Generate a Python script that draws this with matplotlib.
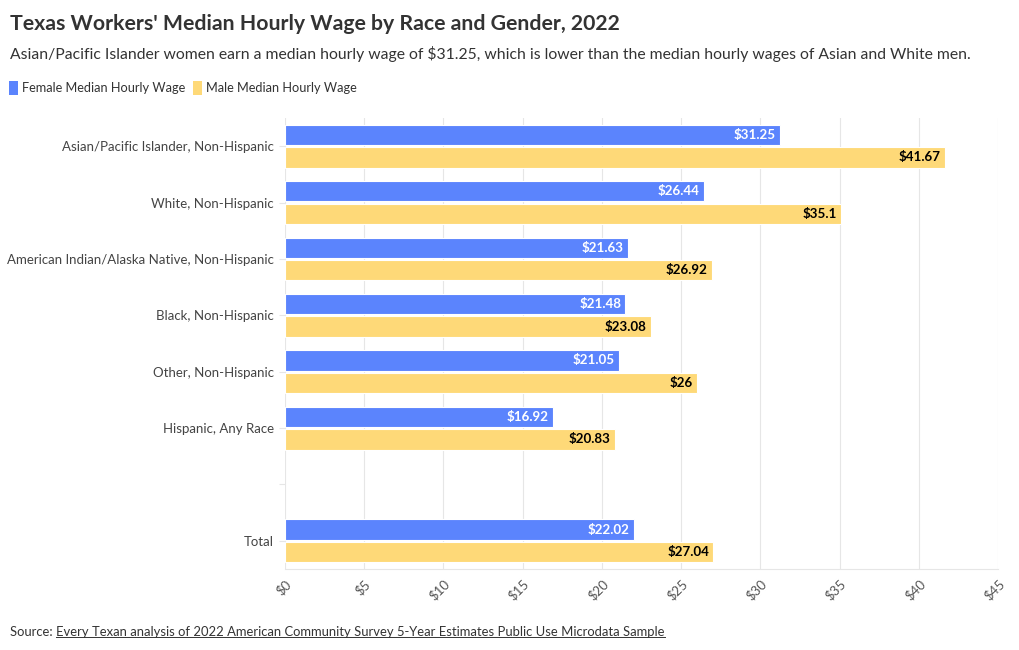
import matplotlib
matplotlib.use("Agg")
import matplotlib.pyplot as plt
from matplotlib.patches import Patch
import numpy as np

categories = [
    "Asian/Pacific Islander, Non-Hispanic",
    "White, Non-Hispanic",
    "American Indian/Alaska Native, Non-Hispanic",
    "Black, Non-Hispanic",
    "Other, Non-Hispanic",
    "Hispanic, Any Race",
    "",
    "Total",
]
female = [31.25, 26.44, 21.63, 21.48, 21.05, 16.92, None, 22.02]
male = [41.67, 35.1, 26.92, 23.08, 26, 20.83, None, 27.04]
female_labels = ["$31.25", "$26.44", "$21.63", "$21.48", "$21.05", "$16.92", None, "$22.02"]
male_labels = ["$41.67", "$35.1", "$26.92", "$23.08", "$26", "$20.83", None, "$27.04"]
xticks = [0, 5, 10, 15, 20, 25, 30, 35, 40, 45]
xtick_labels = ["$0", "$5", "$10", "$15", "$20", "$25", "$30", "$35", "$40", "$45"]
series_names = ["Female Median Hourly Wage", "Male Median Hourly Wage"]

title = "Texas Workers' Median Hourly Wage by Race and Gender, 2022"
subtitle = ("Asian/Pacific Islander women earn a median hourly wage of \\$31.25, which is lower "
            "than the median hourly wages of Asian and White men.")
source_prefix = "Source: "
source_link = "Every Texan analysis of 2022 American Community Survey 5-Year Estimates Public Use Microdata Sample"

BLUE = "#5B84FD"
YELLOW = "#FED978"
TXT = "#333333"
GRID = "#E6E6E6"
FONT = ["Lato", "DejaVu Sans"]

plt.rcParams["font.family"] = FONT

fig = plt.figure(figsize=(10.2, 6.5), dpi=100)
ax = fig.add_axes([0.2794, 0.1246, 0.699, 0.6938])

y = np.arange(len(categories))
h = 0.36
off = 0.2
for i, (f, m) in enumerate(zip(female, male)):
    if f is None:
        continue
    ax.barh(y[i] - off, f, height=h, color=BLUE, edgecolor="white", linewidth=0.8, zorder=3)
    ax.barh(y[i] + off, m, height=h, color=YELLOW, edgecolor="white", linewidth=0.8, zorder=3)
    ax.annotate(female_labels[i].replace("$", r"\$"), (f, y[i] - off), xytext=(-3, 0),
                textcoords="offset points", ha="right", va="center",
                fontsize=9.6, fontweight="bold", color="white", zorder=4)
    ax.annotate(male_labels[i].replace("$", r"\$"), (m, y[i] + off), xytext=(-3, 0),
                textcoords="offset points", ha="right", va="center",
                fontsize=9.6, fontweight="bold", color="black", zorder=4)

ax.set_xlim(0, 45)
ax.set_ylim(len(categories) - 0.5, -0.5)
ax.set_xticks(xticks)
ax.set_xticklabels([t.replace("$", r"\$") for t in xtick_labels], rotation=45,
                   ha="right", rotation_mode="anchor", fontsize=9.5, color="#555555")
ax.set_yticks(y)
ax.set_yticklabels(categories, fontsize=9.5, color="#444444")
ax.tick_params(axis="x", length=0, pad=6)
ax.tick_params(axis="y", length=4, color=GRID, pad=4)
ax.grid(axis="x", color=GRID, linewidth=0.8, zorder=0)
for s in ["top", "right", "left"]:
    ax.spines[s].set_visible(False)
ax.spines["bottom"].set_color(GRID)
ax.spines["bottom"].set_linewidth(0.8)

fig.text(10 / 1020, 1 - 24 / 650, title, fontsize=15.3, fontweight="bold", color=TXT,
         ha="left", va="center")
fig.text(10 / 1020, 1 - 54 / 650, subtitle, fontsize=11.3, color=TXT, ha="left", va="center")

handles = [Patch(facecolor=BLUE, edgecolor="none"), Patch(facecolor=YELLOW, edgecolor="none")]
fig.legend(handles, series_names, loc="center left", bbox_to_anchor=(-3 / 1020, 1 - 88 / 650),
           ncol=2, frameon=False, fontsize=9.2, handlelength=0.75, handleheight=1.3,
           handletextpad=0.3, columnspacing=0.6, labelcolor=TXT)

fig.canvas.draw()
r = fig.canvas.get_renderer()
t1 = fig.text(10 / 1020, 1 - 632 / 650, source_prefix, fontsize=9.4, color=TXT, ha="left", va="center")
bb = t1.get_window_extent(r)
x2 = bb.x1 / fig.bbox.width
t2 = fig.text(x2, 1 - 632 / 650, source_link, fontsize=9.4, color=TXT, ha="left", va="center")
bb2 = t2.get_window_extent(r)
uy = (bb2.y0 + 1) / fig.bbox.height
fig.add_artist(plt.Line2D([bb2.x0 / fig.bbox.width, bb2.x1 / fig.bbox.width], [uy, uy],
                          color=TXT, linewidth=0.7, transform=fig.transFigure))

fig.savefig("out.png", dpi=100)
